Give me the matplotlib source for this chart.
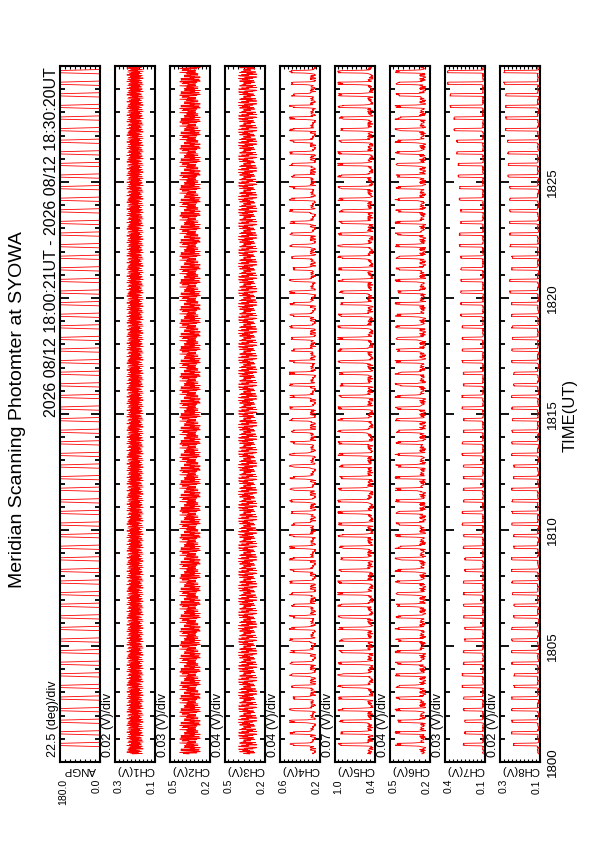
import numpy as np
import matplotlib.pyplot as plt
from matplotlib.ticker import MultipleLocator

plt.rcParams['font.family'] = ['Liberation Sans', 'DejaVu Sans']

# ---- data ----
title = 'Meridian Scanning Photomter at SYOWA'
period_text = '2026 08/12 18:00:21UT - 2026 08/12 18:30:20UT'

channels = ['ANGP', 'CH1(V)', 'CH2(V)', 'CH3(V)', 'CH4(V)', 'CH5(V)', 'CH6(V)', 'CH7(V)', 'CH8(V)']
per_div = ['22.5 (deg)/div', '0.02 (V)/div', '0.03 (V)/div', '0.04 (V)/div', '0.04 (V)/div',
           '0.07 (V)/div', '0.04 (V)/div', '0.03 (V)/div', '0.02 (V)/div']
div_size = [22.5, 0.02, 0.03, 0.04, 0.04, 0.07, 0.04, 0.03, 0.02]
axis_lo = [0.0, 0.1, 0.2, 0.2, 0.2, 0.4, 0.2, 0.1, 0.1]
axis_hi = [180.0, 0.3, 0.5, 0.5, 0.6, 1.0, 0.5, 0.4, 0.3]
lo_labels = ['0.0', '0.1', '0.2', '0.2', '0.2', '0.4', '0.2', '0.1', '0.1']
hi_labels = ['180.0', '0.3', '0.5', '0.5', '0.6', '1.0', '0.5', '0.4', '0.3']

time_ticks = [0, 5, 10, 15, 20, 25, 30]
time_labels = ['1800', '1805', '1810', '1815', '1820', '1825', '']

# one 30 s scan: index into scan_angles for each sample
scan_angles = [0.0, 60.0, 120.0, 180.0]
scan_steps = [0, 0, 0, 0, 0, 0, 0, 0, 0, 0, 0, 0, 0, 0, 0, 0, 0, 0, 0, 0, 0,
              1, 2, 3, 3, 3, 3, 3, 3, 3, 2, 1]
scan_seconds = 30.0

# channel level at each scan angle (CH1..CH8)
profiles = [
    [0.200, 0.200, 0.200, 0.200],
    [0.350, 0.350, 0.350, 0.350],
    [0.330, 0.330, 0.330, 0.330],
    [0.270, 0.280, 0.330, 0.480],
    [0.470, 0.490, 0.600, 0.920],
    [0.255, 0.265, 0.310, 0.440],
    [0.115, 0.115, 0.125, 0.115],
    [0.110, 0.110, 0.118, 0.110],
]
noise_amp = [0.045, 0.085, 0.075, 0.03, 0.045, 0.025, 0.005, 0.004]
noise_stride = [1, 5, 7, 3, 11, 13, 2, 17]

# CH7 / CH8 level at 180 deg, one value per minute
ch7_peak = [0.26, 0.25, 0.26, 0.27, 0.26, 0.25, 0.26, 0.26, 0.25, 0.26,
            0.27, 0.26, 0.26, 0.27, 0.26, 0.27, 0.26, 0.27, 0.27, 0.28,
            0.28, 0.28, 0.29, 0.28, 0.29, 0.30, 0.31, 0.33, 0.36, 0.38]
ch8_peak = [0.23, 0.24, 0.24, 0.23, 0.24, 0.24, 0.23, 0.24, 0.24, 0.23,
            0.24, 0.24, 0.23, 0.24, 0.24, 0.24, 0.23, 0.24, 0.24, 0.24,
            0.25, 0.24, 0.25, 0.25, 0.25, 0.26, 0.26, 0.27, 0.27, 0.28]

jitter = [0.3, -0.8, 0.5, 0.1, -0.4, 0.9, -0.2, -0.7, 0.6, 0.0, -0.5, 0.8, -0.1,
          0.4, -0.9, 0.2, 0.7, -0.3, -0.6, 0.5, 0.1, -0.8, 0.3, 0.9, -0.4, -0.1,
          0.6, -0.7, 0.2, 0.4, -0.5, 0.8, -0.2, -0.9, 0.0, 0.7, -0.3]

# ---- build the time series ----
t_start = 21 / 60.0
t_end = 30 + 20 / 60.0
dt = scan_seconds / len(scan_steps) / 60.0
t = np.arange(t_start, t_end, dt)
n = len(t)
step = np.array([scan_steps[i % len(scan_steps)] for i in range(n)])
minute = np.minimum(t.astype(int), 29)
jit = np.array(jitter)

series = [np.array(scan_angles)[step]]
for c in range(8):
    v = np.array(profiles[c])[step]
    if c == 6:
        v = np.where(step == 3, np.array(ch7_peak)[minute], v)
    if c == 7:
        v = np.where(step == 3, np.array(ch8_peak)[minute], v)
    v = v + noise_amp[c] * jit[(np.arange(n) * noise_stride[c] + 3 * c) % len(jit)]
    series.append(v)

# ---- figure ----
W, H = 595, 842
fig = plt.figure(figsize=(W / 100, H / 100), dpi=100)


def fx(x):
    return x / W


def fy(y):
    return 1 - y / H


top, bottom, pw = 66, 762, 40
for i in range(9):
    left = 60 + 55 * i
    ax = fig.add_axes([fx(left), fy(bottom), pw / W, (bottom - top) / H])
    ax.plot(series[i], t, color='red', lw=0.6)
    lo, hi, d = axis_lo[i], axis_hi[i], div_size[i]
    ndiv = int((hi - lo) / d + 1e-6)
    ax.set_xticks([lo + j * d for j in range(ndiv + 1)])
    ax.set_xlim(hi, lo)
    ax.set_ylim(0, 30)
    ax.set_yticks(time_ticks)
    ax.yaxis.set_minor_locator(MultipleLocator(1))
    ax.tick_params(axis='x', direction='in', length=2.5, width=0.8,
                   top=True, bottom=True, labelbottom=False)
    ax.tick_params(axis='y', which='major', direction='in', length=6.5, width=1.3,
                   left=True, right=True, labelleft=False)
    ax.tick_params(axis='y', which='minor', direction='in', length=3.5, width=1.3,
                   left=True, right=True)
    for s in ax.spines.values():
        s.set_linewidth(1.5)

    if i == 8:
        ax.set_yticklabels(time_labels)
        ax.tick_params(axis='y', which='major', labelright=True, labelsize=9.5, pad=5)
        for lab in ax.get_yticklabels():
            lab.set_rotation(90)
            lab.set_va('center')

    # per-panel texts
    fig.text(fx(left - 7), fy(757), per_div[i], rotation=90, fontsize=9,
             ha='center', va='bottom')
    fig.text(fx(left + pw / 2), fy(765), channels[i], rotation=180, fontsize=8.2,
             ha='center', va='top')
    fig.text(fx(left + 3.5), fy(779), hi_labels[i], rotation=90, fontsize=7.5,
             ha='center', va='top')
    fig.text(fx(left + pw - 3.5), fy(779), lo_labels[i], rotation=90, fontsize=7.5,
             ha='center', va='top')

fig.text(fx(52), fy(67), period_text, rotation=90, fontsize=11.5, ha='center', va='top')
fig.text(fx(18), fy(410), title, rotation=90, fontsize=14, ha='center', va='center')
fig.text(fx(570), fy(415), 'TIME(UT)', rotation=90, fontsize=12, ha='center', va='center')

fig.savefig('out.png', dpi=100)
